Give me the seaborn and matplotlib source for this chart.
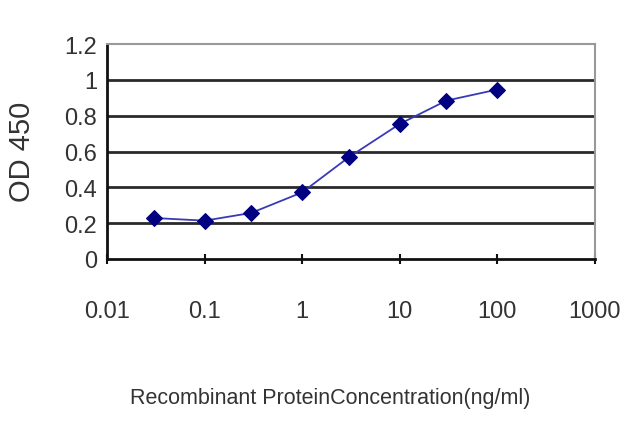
import matplotlib
matplotlib.use("Agg")
import matplotlib.pyplot as plt
import seaborn as sns
import pandas as pd
from matplotlib.ticker import FixedLocator, FixedFormatter, NullLocator

concentration = [0.03, 0.1, 0.3, 1, 3, 10, 30, 100]
od450 = [0.229, 0.214, 0.257, 0.372, 0.568, 0.754, 0.884, 0.946]
x_ticks = [0.01, 0.1, 1, 10, 100, 1000]
x_tick_labels = ["0.01", "0.1", "1", "10", "100", "1000"]
y_ticks = [0, 0.2, 0.4, 0.6, 0.8, 1, 1.2]
y_tick_labels = ["0", "0.2", "0.4", "0.6", "0.8", "1", "1.2"]

sns.set_style("white")
plt.rcParams['font.family'] = ['Liberation Sans', 'DejaVu Sans']

df = pd.DataFrame({"conc": concentration, "od": od450})

fig = plt.figure(figsize=(6.4, 4.27), dpi=100)
ax = fig.add_axes([107/640, 1 - 260/427, (595-107)/640, (260-45)/427])

for y in y_ticks[1:-1]:
    ax.axhline(y, color="#2a2a2a", lw=2.0, zorder=1)

sns.lineplot(data=df, x="conc", y="od", ax=ax, color="#3a3ab8", lw=1.3,
             marker="D", markersize=8, markerfacecolor="#000080",
             markeredgecolor="#000080", zorder=3)

ax.set_xscale("log")
ax.set_xlim(0.01, 1000)
ax.set_ylim(0, 1.2)
ax.xaxis.set_major_locator(FixedLocator(x_ticks))
ax.xaxis.set_major_formatter(FixedFormatter(x_tick_labels))
ax.xaxis.set_minor_locator(NullLocator())
ax.yaxis.set_major_locator(FixedLocator(y_ticks))
ax.yaxis.set_major_formatter(FixedFormatter(y_tick_labels))

ax.tick_params(axis="x", direction="inout", length=7, width=1.5, color="#111111",
               pad=26, labelsize=17, bottom=True)
ax.tick_params(axis="y", length=0, pad=7, labelsize=17)
for lab in ax.get_xticklabels() + ax.get_yticklabels():
    lab.set_color("#333333")

for s in ["left", "bottom"]:
    ax.spines[s].set_color("#111111")
    ax.spines[s].set_linewidth(2.0)
for s in ["top", "right"]:
    ax.spines[s].set_color("#999999")
    ax.spines[s].set_linewidth(1.5)

ax.set_xlabel("Recombinant ProteinConcentration(ng/ml)", fontsize=15.5, color="#333333")
ax.set_ylabel("OD 450", fontsize=21, color="#333333")
ax.xaxis.set_label_coords((330-107)/488, -(388-260)/215)
ax.yaxis.set_label_coords(-(107-36)/488, (260-152)/215)

fig.savefig("out.png", dpi=100)
